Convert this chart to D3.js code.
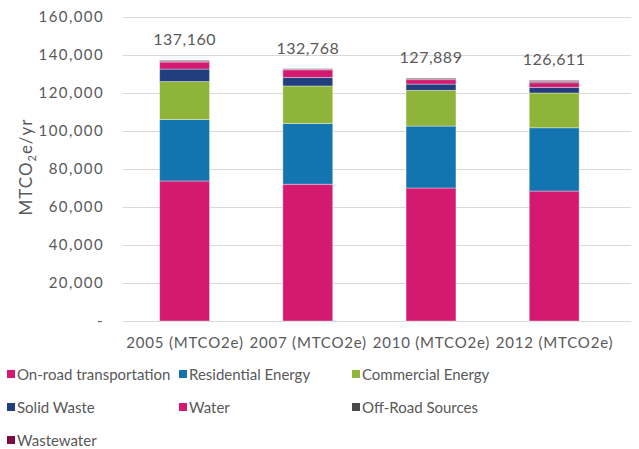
<!DOCTYPE html>
<html>
  <head>
    <meta charset="utf-8">
    <title>GHG emissions by sector</title>
    <style type="text/css">
      body {
        margin: 0;
        background: #fff;
      }
      text {
        font-family: "Lato", "Open Sans", sans-serif;
        fill: #595959;
      }
      .grid line {
        stroke: #d9d9d9;
        stroke-width: 1px;
      }
    </style>
  </head>
<body>
  <div id="chart"></div>
  <script src="https://cdn.jsdelivr.net/npm/d3@7"></script>
  <script type="text/javascript">
    var width = 639, height = 449;

    // data
    var years = ["2005 (MTCO2e)", "2007 (MTCO2e)", "2010 (MTCO2e)", "2012 (MTCO2e)"];
    var sectors = ["On-road transportation", "Residential Energy", "Commercial Energy",
                   "Solid Waste", "Water", "Off-Road Sources", "Wastewater"];
    var onRoad      = [73700, 72000, 70000, 68400];
    var residential = [32300, 31900, 32600, 33300];
    var commercial  = [20000, 19800, 18800, 18300];
    var solidWaste  = [6600, 4500, 3300, 3000];
    var water       = [3700, 4000, 2300, 2400];
    var offRoad     = [500, 350, 500, 700];
    var wastewater  = [360, 218, 389, 511];
    var totals      = [137160, 132768, 127889, 126611];
    var yTicks      = [0, 20000, 40000, 60000, 80000, 100000, 120000, 140000, 160000];

    var colors = ["#d31a70", "#1474b0", "#8fb43a", "#213f7f", "#d31a70", "#4a4a4a", "#7b0c46"];

    var series = [onRoad, residential, commercial, solidWaste, water, offRoad, wastewater];
    var rows = years.map(function(y, i) {
      var r = { year: y };
      sectors.forEach(function(s, j) { r[s] = series[j][i]; });
      return r;
    });
    var stacked = d3.stack().keys(sectors)(rows);

    var svg = d3.select("#chart").append("svg")
      .attr("width", width)
      .attr("height", height);

    var plotLeft = 123, plotRight = 631, plotTop = 17, plotBottom = 321;

    var x = d3.scaleBand()
      .domain(years)
      .range([plotLeft, plotLeft + 4 * 123.2])
      .paddingInner(0.595)
      .paddingOuter(0.2975);

    var y = d3.scaleLinear()
      .domain([0, 160000])
      .range([plotBottom, plotTop]);

    // gridlines
    svg.append("g")
      .attr("class", "grid")
      .selectAll("line")
      .data(yTicks)
      .enter().append("line")
      .attr("x1", plotLeft)
      .attr("x2", plotRight)
      .attr("y1", function(d) { return Math.round(y(d)) + 0.5; })
      .attr("y2", function(d) { return Math.round(y(d)) + 0.5; });

    // y tick labels
    svg.append("g")
      .selectAll("text")
      .data(yTicks)
      .enter().append("text")
      .attr("x", 104)
      .attr("y", function(d) { return y(d) + 5; })
      .attr("text-anchor", "end")
      .style("font-size", "15px")
      .style("letter-spacing", "1.4px")
      .text(function(d) { return d === 0 ? "-" : d3.format(",")(d); });

    // stacked bars
    svg.append("g")
      .selectAll("g")
      .data(stacked)
      .enter().append("g")
      .attr("fill", function(d, i) { return colors[i]; })
      .selectAll("rect")
      .data(function(d) { return d; })
      .enter().append("rect")
      .attr("x", function(d) { return x(d.data.year); })
      .attr("width", x.bandwidth())
      .attr("y", function(d) { return y(d[1]); })
      .attr("height", function(d) { return y(d[0]) - y(d[1]); })
      .attr("stroke", "#fff")
      .attr("stroke-opacity", 0.45)
      .attr("stroke-width", 0.8);

    // total labels
    svg.append("g")
      .selectAll("text")
      .data(totals)
      .enter().append("text")
      .attr("x", function(d, i) { return x(years[i]) + x.bandwidth() / 2; })
      .attr("y", function(d) { return y(d) - 15; })
      .attr("text-anchor", "middle")
      .style("font-size", "16px")
      .style("letter-spacing", "0.5px")
      .text(function(d) { return d3.format(",")(d); });

    // x labels
    svg.append("g")
      .selectAll("text")
      .data(years)
      .enter().append("text")
      .attr("x", function(d) { return x(d) + x.bandwidth() / 2 + 0.4; })
      .attr("y", 348)
      .attr("text-anchor", "middle")
      .style("font-size", "15px")
      .style("letter-spacing", "0.8px")
      .text(function(d) { return d; });

    // y axis title
    var title = svg.append("text")
      .attr("transform", "translate(32,167) rotate(-90)")
      .attr("text-anchor", "middle")
      .style("font-size", "17px")
      .style("letter-spacing", "1px");
    title.append("tspan").text("MTCO");
    title.append("tspan").attr("dy", 4).style("font-size", "11px").text("2");
    title.append("tspan").attr("dy", -4).text("e/yr");

    // legend
    var colX = [7, 179, 352];
    var legend = svg.append("g")
      .selectAll("g")
      .data(sectors)
      .enter().append("g")
      .attr("transform", function(d, i) {
        return "translate(" + colX[i % 3] + "," + (375 + Math.floor(i / 3) * 33) + ")";
      });
    legend.append("rect")
      .attr("x", 0)
      .attr("y", -5)
      .attr("width", 8)
      .attr("height", 8)
      .attr("fill", function(d, i) { return colors[i]; });
    legend.append("text")
      .attr("x", 10)
      .attr("y", 5)
      .style("font-size", "15px")
      .text(function(d) { return d; });
  </script>
</body>
</html>
